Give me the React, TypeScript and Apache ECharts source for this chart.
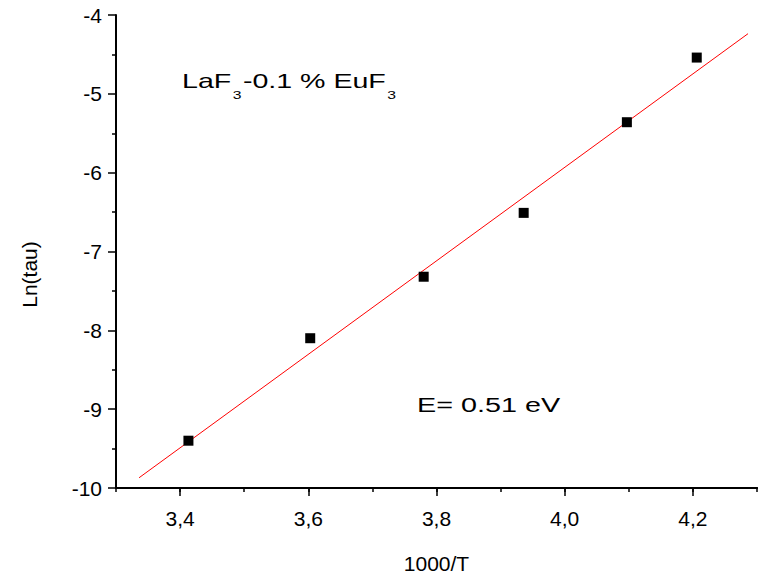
import React, { useEffect, useRef } from "react";
import * as echarts from "echarts";

// Measured points: 1000/T vs Ln(tau)
const xValues = [3.413, 3.603, 3.780, 3.936, 4.097, 4.206];
const yValues = [-9.40, -8.10, -7.32, -6.51, -5.36, -4.54];
// Linear fit line endpoints
const fitX = [3.336, 4.286];
const fitY = [-9.87, -4.237];
// Axis ticks
const xMajorTicks = [3.4, 3.6, 3.8, 4.0, 4.2];
const xRange = [3.3, 4.3];
const xMinorStep = 0.1;
const yRange = [-10, -4];
const xName = "1000/T";
const yName = "Ln(tau)";
const annotationSample = ["LaF", "3", "-0.1 % EuF", "3"];
const annotationEnergy = "E= 0.51 eV";

const FONT = "'Liberation Sans', Arial, sans-serif";

export default function App() {
  const ref = useRef<HTMLDivElement>(null);
  useEffect(() => {
    document.body.style.margin = "0";
    if (!ref.current) return;
    const chart = echarts.init(ref.current, null, { renderer: "svg" });
    const points = xValues.map((x, i) => [x, yValues[i]]);
    const fit = fitX.map((x, i) => [x, fitY[i]]);
    chart.setOption({
      animation: false,
      backgroundColor: "#ffffff",
      grid: { left: 116, right: 8, top: 15, bottom: 91, containLabel: false },
      xAxis: [
        {
          type: "value",
          min: xRange[0],
          max: xRange[1],
          interval: xMinorStep,
          position: "bottom",
          name: xName,
          nameLocation: "middle",
          nameGap: 65,
          nameTextStyle: { color: "#000", fontSize: 21, fontFamily: FONT },
          axisLine: { show: true, lineStyle: { color: "#000", width: 2 } },
          axisTick: {
            show: true,
            length: 4,
            lineStyle: { color: "#000", width: 1.5 },
          },
          axisLabel: {
            customValues: xMajorTicks,
            margin: 20,
            color: "#000",
            fontSize: 21,
            fontFamily: FONT,
            formatter: (v: number) => v.toFixed(1).replace(".", ","),
          },
          splitLine: { show: false },
        },
        {
          type: "value",
          min: xRange[0],
          max: xRange[1],
          position: "bottom",
          offset: 0,
          axisLine: { show: true, lineStyle: { color: "#000", width: 2 } },
          axisTick: {
            show: true,
            customValues: xMajorTicks,
            length: 8,
            lineStyle: { color: "#000", width: 1.5 },
          },
          axisLabel: { show: false },
          splitLine: { show: false },
        },
      ],
      yAxis: {
        type: "value",
        min: yRange[0],
        max: yRange[1],
        interval: 1,
        name: yName,
        nameLocation: "middle",
        nameGap: 76,
        nameTextStyle: { color: "#000", fontSize: 21, fontFamily: FONT, padding: [0, 46, 0, 0] },
        axisLine: { show: true, lineStyle: { color: "#000", width: 2 } },
        axisTick: { show: true, length: 8, lineStyle: { color: "#000", width: 1.5 } },
        minorTick: { show: true, splitNumber: 2, length: 4, lineStyle: { color: "#000", width: 1.5 } },
        axisLabel: { margin: 14, color: "#000", fontSize: 21, fontFamily: FONT },
        splitLine: { show: false },
      },
      series: [
        {
          type: "line",
          data: fit,
          xAxisIndex: 0,
          showSymbol: false,
          symbol: "none",
          lineStyle: { color: "#ff0000", width: 1 },
          z: 2,
        },
        {
          type: "scatter",
          data: points,
          xAxisIndex: 0,
          symbol: "rect",
          symbolSize: 10,
          itemStyle: { color: "#000", opacity: 1 },
          z: 3,
        },
      ],
      graphic: [
        {
          type: "text",
          x: 182,
          y: 61,
          scaleX: 1.43,
          style: {
            text: `{n|${annotationSample[0]}}{s|${annotationSample[1]}}{n|${annotationSample[2]}}{s|${annotationSample[3]}}`,
            fill: "#000",
            fontFamily: FONT,
            verticalAlign: "top",
            rich: {
              n: { fontSize: 20, lineHeight: 40, fontFamily: FONT, fill: "#000" },
              s: { fontSize: 11, lineHeight: 11, padding: [28, 1, 0, 1], fontFamily: FONT, fill: "#000" },
            },
          },
        },
        {
          type: "text",
          x: 417,
          y: 394,
          scaleX: 1.37,
          style: {
            text: annotationEnergy,
            fill: "#000",
            fontSize: 21,
            fontFamily: FONT,
            verticalAlign: "top",
          },
        },
      ],
    });
    return () => chart.dispose();
  }, []);
  return <div ref={ref} style={{ width: 765, height: 579 }} />;
}
